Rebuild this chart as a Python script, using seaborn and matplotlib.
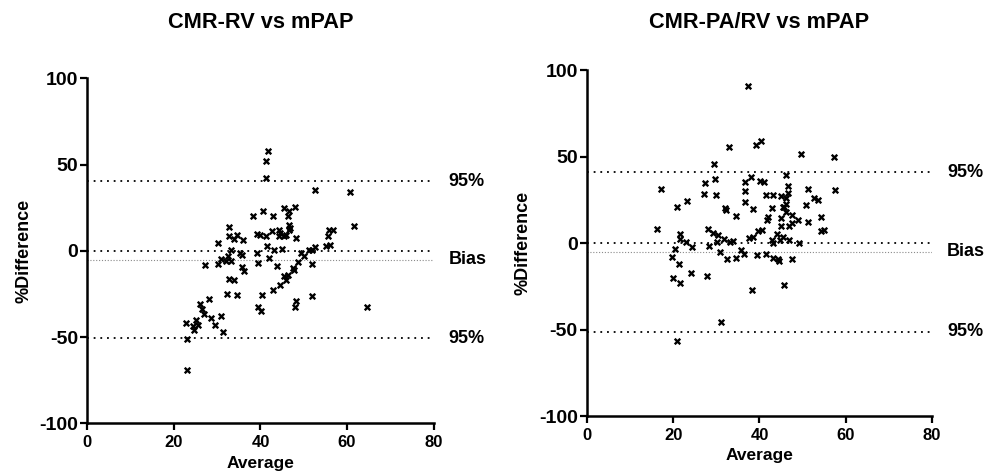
#!/usr/bin/env python3
"""
Bland-Altman style plots: CMR-RV and CMR-PA/RV vs mPAP.
"""

import matplotlib
matplotlib.use("Agg")
import matplotlib.pyplot as plt
import pandas as pd
import seaborn as sns

# Left panel: CMR-RV vs mPAP
rv_average = [
    41.8, 41.3, 41.3, 52.7, 60.7, 61.7, 40.5, 45.4, 46.6, 48.0,
    38.2, 42.8, 46.3, 46.5, 46.9, 32.8, 32.7, 34.5, 33.9, 36.0,
    39.1, 39.9, 41.3, 42.6, 44.3, 44.5, 44.2, 46.0, 46.5, 48.3,
    55.7, 55.9, 56.7, 30.3, 41.5, 33.2, 35.3, 35.7, 39.2, 43.2,
    44.9, 49.3, 50.0, 51.1, 52.0, 52.5, 55.2, 56.1, 32.6, 30.9,
    32.0, 33.1, 42.0, 27.2, 30.3, 39.5, 43.9, 48.6, 52.0, 35.8,
    47.6, 36.2, 47.8, 46.3, 45.5, 45.9, 44.6, 43.0, 40.3, 34.6,
    32.2, 32.8, 33.9, 28.1, 26.1, 26.5, 27.0, 28.6, 30.9, 29.4,
    31.4, 25.1, 22.8, 24.4, 25.5, 24.7, 23.0, 23.0, 39.5, 40.1,
    48.2, 48.0, 51.9, 64.6, 45.5,
]
rv_difference = [
    58.0, 52.0, 42.0, 35.1, 33.9, 14.1, 22.9, 25.0, 23.1, 25.6,
    20.2, 20.2, 20.2, 15.2, 13.1, 13.9, 8.7, 9.2, 6.7, 6.4,
    9.8, 8.9, 8.7, 11.6, 11.8, 10.6, 8.7, 9.1, 11.8, 7.7,
    8.7, 11.8, 11.8, 4.8, 2.9, 0.2, -1.0, -2.7, -1.3, 0.2,
    1.0, -1.3, -2.9, 0.2, 0.2, 2.1, 2.9, 3.3, -2.9, -4.8,
    -5.8, -5.8, -4.2, -8.1, -7.7, -7.1, -8.7, -6.2, -7.5, -9.6,
    -10.0, -11.6, -11.2, -13.9, -14.8, -16.8, -20.0, -22.5, -25.4, -25.8,
    -25.1, -16.2, -17.1, -27.7, -30.6, -33.5, -36.4, -38.9, -38.0, -43.0,
    -46.8, -40.3, -41.8, -43.4, -43.0, -46.1, -51.0, -69.2, -32.6, -34.7,
    -29.3, -32.8, -26.0, -32.4, 8.8,
]
rv_limits = [40.4, -50.7]   # upper / lower 95% limits of agreement
rv_bias = -5.2

# Right panel: CMR-PA/RV vs mPAP
parv_average = [
    37.3, 40.3, 39.1, 33.0, 49.6, 57.3, 29.4, 46.1, 29.7, 27.4,
    38.0, 36.7, 40.1, 41.0, 46.5, 51.3, 57.6, 17.3, 27.2, 30.0,
    36.7, 41.4, 43.2, 45.1, 46.1, 46.5, 52.6, 53.6, 23.3, 36.7,
    50.7, 20.9, 32.0, 32.2, 38.5, 43.0, 45.5, 46.1, 45.7, 46.1,
    34.5, 42.0, 41.7, 45.0, 47.5, 49.0, 51.2, 54.2, 47.5, 46.8,
    45.0, 54.3, 55.0, 16.3, 28.0, 29.2, 30.3, 21.5, 21.7, 23.0,
    24.3, 28.3, 30.1, 31.8, 33.2, 33.9, 37.6, 38.6, 39.7, 40.6,
    44.0, 42.9, 43.2, 44.8, 45.5, 46.8, 49.2, 20.4, 19.8, 21.3,
    30.9, 32.5, 34.6, 35.8, 36.3, 39.5, 41.4, 43.1, 44.2, 44.5,
    47.5, 24.1, 20.0, 21.6, 27.8, 38.3, 45.7, 31.2, 20.9,
]
parv_difference = [
    90.9, 59.1, 56.8, 55.3, 51.6, 49.5, 45.7, 39.1, 37.0, 34.7,
    38.2, 35.3, 35.8, 35.3, 33.1, 31.2, 30.5, 31.4, 28.3, 27.6,
    29.9, 27.9, 27.7, 27.2, 26.2, 28.7, 25.8, 24.9, 24.1, 23.5,
    22.0, 20.6, 20.4, 19.1, 19.7, 20.4, 21.0, 22.4, 20.6, 18.1,
    15.6, 14.9, 13.3, 14.3, 16.2, 13.3, 11.9, 15.2, 11.7, 10.0,
    10.0, 7.1, 7.7, 7.9, 7.9, 5.6, 4.8, 5.0, 2.3, 0.4,
    -2.3, -1.5, 0.4, 2.1, 0.4, 1.0, 2.7, 3.7, 7.1, 7.7,
    5.4, 1.7, 0.2, 1.7, 3.3, 1.7, 0.2, -3.7, -8.3, -12.3,
    -5.4, -9.2, -8.5, -4.0, -6.2, -6.9, -6.2, -8.5, -9.4, -10.2,
    -9.4, -17.2, -20.4, -23.3, -19.2, -27.0, -24.5, -45.9, -56.5,
]
parv_limits = [40.9, -51.3]
parv_bias = -5.2

titles = ["CMR-RV vs mPAP", "CMR-PA/RV vs mPAP"]
x_ticks = [0, 20, 40, 60, 80]
y_ticks = [-100, -50, 0, 50, 100]


def draw_panel(ax, avg, diff, limits, bias, title, fig):
    df = pd.DataFrame({"Average": avg, "Difference": diff})

    # reference lines: 95% limits, zero line, bias
    for y in limits + [0]:
        ax.hlines(y, 0, 80, color="black", linewidth=1.3,
                  linestyle=(0, (1, 2.7)), zorder=1)
    ax.hlines(bias, 0, 80, color="#8a8a8a", linewidth=0.8,
              linestyle=(0, (1, 1.6)), zorder=1)

    sns.scatterplot(data=df, x="Average", y="Difference", marker="x",
                    color="black", s=16, linewidth=1.7, ax=ax, zorder=3)

    for y, label in [(limits[0], "95%"), (bias, "Bias"), (limits[1], "95%")]:
        ax.text(83.5, y, label, fontsize=13, fontweight="bold",
                va="center", ha="left", clip_on=False)

    ax.set_xlim(0, 80)
    ax.set_ylim(-100, 100)
    ax.set_xticks(x_ticks)
    ax.set_yticks(y_ticks)
    ax.tick_params(axis="x", labelsize=12, width=1.6, length=5)
    ax.tick_params(axis="y", labelsize=14, width=1.6, length=5, pad=1.5)
    for lbl in ax.get_xticklabels() + ax.get_yticklabels():
        lbl.set_fontweight("bold")
    for side in ["left", "bottom"]:
        ax.spines[side].set_linewidth(1.8)
    sns.despine(ax=ax)

    ax.set_xlabel("Average", fontsize=12.5, fontweight="bold", labelpad=4)
    ax.set_ylabel("%Difference", fontsize=13, fontweight="bold", labelpad=5)

    pos = ax.get_position()
    fig.text((pos.x0 + pos.x1) / 2, 1 - 22 / 473, title, fontsize=15.7,
             fontweight="bold", ha="center", va="center")


def main():
    sns.set_style("ticks")
    plt.rcParams["font.family"] = ["Liberation Sans", "DejaVu Sans"]
    plt.rcParams["axes.unicode_minus"] = False
    for key in ["text.color", "axes.labelcolor", "xtick.color",
                "ytick.color", "axes.edgecolor"]:
        plt.rcParams[key] = "black"

    fig = plt.figure(figsize=(9.98, 4.73), dpi=100)
    ax_left = fig.add_axes([0.0875, 0.1047, 0.347, 0.730])
    ax_right = fig.add_axes([0.588, 0.1205, 0.346, 0.7315])

    draw_panel(ax_left, rv_average, rv_difference, rv_limits, rv_bias, titles[0], fig)
    draw_panel(ax_right, parv_average, parv_difference, parv_limits, parv_bias, titles[1], fig)

    fig.savefig("out.png", dpi=100)
    plt.close()


if __name__ == "__main__":
    main()
